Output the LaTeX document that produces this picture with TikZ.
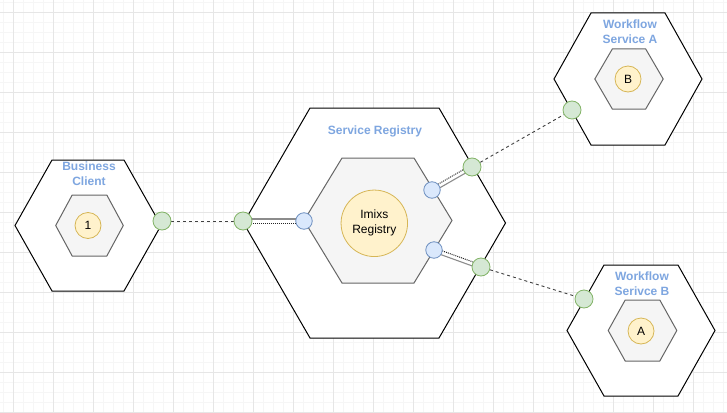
\documentclass[tikz,border=0pt]{standalone}
\usepackage{fontspec}
\setmainfont{Liberation Sans}
\usetikzlibrary{calc}
\definecolor{titleblue}{HTML}{7EA6E0}
\definecolor{yfill}{HTML}{FFF2CC}
\definecolor{ystroke}{HTML}{D6B656}
\definecolor{gfill}{HTML}{D5E8D4}
\definecolor{gstroke}{HTML}{82B366}
\definecolor{bfill}{HTML}{DAE8FC}
\definecolor{bstroke}{HTML}{6C8EBF}
\definecolor{innerfill}{HTML}{F5F5F5}
\definecolor{innerstroke}{HTML}{666666}
\definecolor{gridminor}{HTML}{F6F6F6}
\definecolor{gridmajor}{HTML}{E6E6E6}
\pgfdeclarelayer{bg}
\pgfdeclarelayer{conn}
\pgfsetlayers{bg,conn,main}
\tikzset{
  outerhex/.style={draw=black, fill=white, line width=1pt, line join=miter},
  innerhex/.style={draw=innerstroke, fill=innerfill, line width=1pt},
  core/.style={circle, draw=ystroke, fill=yfill, line width=0.8pt, inner sep=0pt, minimum size=26pt, font=\fontsize{12}{15}\selectfont, align=center},
  gport/.style={circle, draw=gstroke, fill=gfill, line width=0.8pt, inner sep=0pt, minimum size=18pt},
  bport/.style={circle, draw=bstroke, fill=bfill, line width=0.8pt, inner sep=0pt, minimum size=16.5pt},
  title/.style={text=titleblue, font=\bfseries\fontsize{12}{15}\selectfont, align=center, inner sep=0pt},
  dashconn/.style={draw=black!75, dash pattern=on 3pt off 3pt, line width=0.9pt},
  linksolid/.style={draw=black!45, line width=1.1pt},
  linkdot/.style={draw=black!85, dash pattern=on 1pt off 1pt, line width=1pt},
}
% style, cx, cy, hw, hh, off
\newcommand{\hexshape}[6]{%
  \path[#1] ({#2-#4},{#3}) -- ({#2-#4+#6},{#3-#5}) -- ({#2+#4-#6},{#3-#5}) -- ({#2+#4},{#3})
    -- ({#2+#4-#6},{#3+#5}) -- ({#2-#4+#6},{#3+#5}) -- cycle;}
\newcommand{\linkconn}[2]{%
  \draw[linksolid] ($(#1)!2pt!-90:(#2)$) -- ($(#2)!2pt!90:(#1)$);
  \draw[linkdot] ($(#1)!2pt!90:(#2)$) -- ($(#2)!2pt!-90:(#1)$);}
\begin{document}
\begin{tikzpicture}[x=1pt, y=-1pt]
\useasboundingbox (0,0) rectangle (727,412);
\begin{pgfonlayer}{bg}
  \fill[white] (0,0) rectangle (727,412);
  \foreach \x in {3,13,...,723} \draw[gridminor, line width=0.8pt] (\x,0) -- (\x,412);
  \foreach \y in {2,12,...,412} \draw[gridminor, line width=0.8pt] (0,\y) -- (727,\y);
  \foreach \x in {13,53,...,723} \draw[gridmajor, line width=0.8pt] (\x,0) -- (\x,412);
  \foreach \y in {12,52,...,412} \draw[gridmajor, line width=0.8pt] (0,\y) -- (727,\y);
  % outer hexagons
  \hexshape{outerhex}{88}{225.5}{73}{65.5}{37}
  \hexshape{outerhex}{374.5}{223}{131}{115}{66.5}
  \hexshape{outerhex}{628}{79}{74}{66}{37}
  \hexshape{outerhex}{641}{330.5}{74}{65.5}{37}
  % inner hexagons
  \hexshape{innerhex}{89.5}{225.5}{33.8}{30.5}{16.5}
  \hexshape{innerhex}{378}{220.5}{74}{62.5}{38}
  \hexshape{innerhex}{629}{79}{34.2}{30}{17.5}
  \hexshape{innerhex}{642.5}{330.5}{34.3}{30.5}{17}
\end{pgfonlayer}
% titles
\node[title] (tbc) at (89,174) {Business\\Client};
\node[title] (tsr) at (375,131) {Service Registry};
\node[title] (twa) at (630,32) {Workflow\\Service A};
\node[title] (twb) at (642,284) {Workflow\\Serivce B};
% cores
\node[core] (c1) at (88,225.5) {1};
\node[core, minimum size=66.5pt] (reg) at (374.3,223.3) {Imixs\\Registry};
\node[core] (cb) at (628,79) {B};
\node[core] (ca) at (641,331) {A};
% ports
\node[gport] (gbc) at (162,221) {};
\node[gport] (gsrl) at (243,221) {};
\node[gport] (gsru) at (472,167) {};
\node[gport] (gsrd) at (481,267) {};
\node[gport] (gwa) at (572,110) {};
\node[gport] (gwb) at (584,299) {};
\node[bport] (bl) at (304,221) {};
\node[bport] (bu) at (432,190) {};
\node[bport] (bd) at (434,250) {};
% connectors
\begin{pgfonlayer}{conn}
  \draw[dashconn] (gbc) -- (gsrl);
  \draw[dashconn] (gsru) -- (gwa);
  \draw[dashconn] (gsrd) -- (gwb);
  \linkconn{bl}{gsrl}
  \linkconn{bu}{gsru}
  \linkconn{bd}{gsrd}
\end{pgfonlayer}
\end{tikzpicture}
\end{document}
